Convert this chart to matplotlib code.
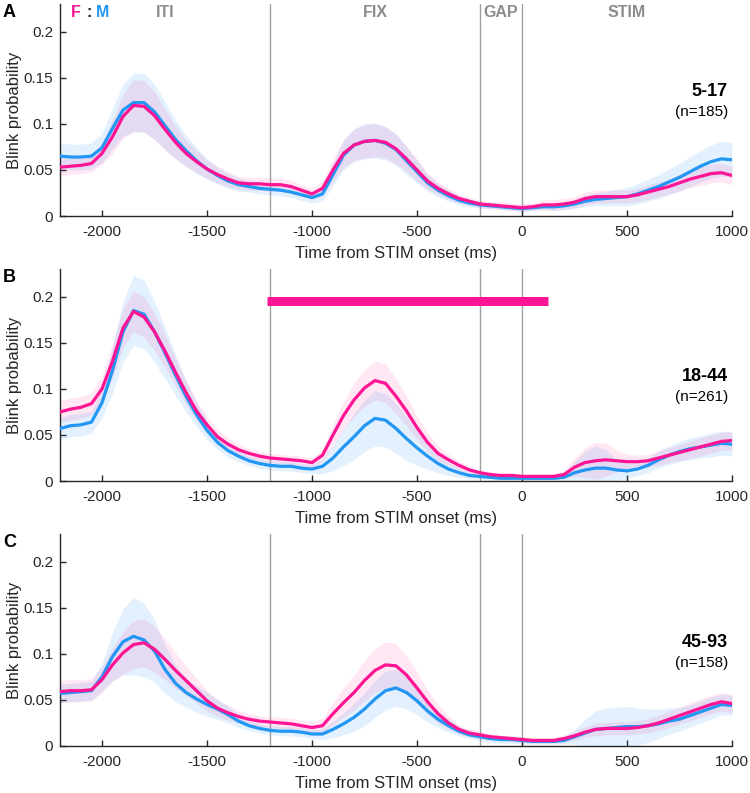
import numpy as np
import matplotlib
matplotlib.use("Agg")
import matplotlib.pyplot as plt

plt.rcParams['font.family'] = ['Liberation Sans', 'DejaVu Sans']
plt.rcParams['axes.unicode_minus'] = False

# time axis (ms from STIM onset), 50 ms steps
t = np.arange(-2200, 1001, 50)

# ---- panel A : 5-17 ----
fA = [0.053, 0.054, 0.055, 0.057, 0.068, 0.086, 0.108, 0.120, 0.119, 0.109,
      0.094, 0.080, 0.068, 0.059, 0.051, 0.045, 0.040, 0.036, 0.035, 0.035,
      0.034, 0.034, 0.032, 0.028, 0.024, 0.030, 0.050, 0.068, 0.077, 0.081,
      0.082, 0.080, 0.073, 0.062, 0.050, 0.038, 0.030, 0.024, 0.019, 0.016,
      0.013, 0.012, 0.011, 0.010, 0.009, 0.010, 0.012, 0.012, 0.013, 0.015,
      0.019, 0.021, 0.021, 0.021, 0.021, 0.023, 0.026, 0.029, 0.032, 0.036,
      0.040, 0.043, 0.046, 0.047, 0.044]
mA = [0.065, 0.064, 0.064, 0.065, 0.074, 0.095, 0.115, 0.123, 0.123, 0.113,
      0.098, 0.083, 0.071, 0.060, 0.051, 0.044, 0.038, 0.034, 0.032, 0.030,
      0.029, 0.028, 0.026, 0.023, 0.020, 0.024, 0.045, 0.066, 0.077, 0.081,
      0.082, 0.079, 0.072, 0.060, 0.048, 0.036, 0.028, 0.022, 0.017, 0.014,
      0.012, 0.011, 0.010, 0.009, 0.008, 0.009, 0.010, 0.010, 0.011, 0.013,
      0.016, 0.018, 0.019, 0.020, 0.021, 0.024, 0.028, 0.032, 0.037, 0.042,
      0.048, 0.054, 0.059, 0.062, 0.061]
fA_err = [0.009, 0.009, 0.009, 0.009, 0.012, 0.018, 0.024, 0.028, 0.028, 0.026,
          0.022, 0.018, 0.014, 0.012, 0.010, 0.009, 0.008, 0.007, 0.007, 0.007,
          0.007, 0.007, 0.007, 0.006, 0.006, 0.008, 0.012, 0.015, 0.017, 0.018,
          0.018, 0.017, 0.016, 0.014, 0.012, 0.009, 0.007, 0.006, 0.005, 0.004,
          0.004, 0.004, 0.004, 0.004, 0.004, 0.004, 0.005, 0.006, 0.006, 0.006,
          0.007, 0.007, 0.007, 0.007, 0.007, 0.007, 0.008, 0.008, 0.008, 0.009,
          0.009, 0.010, 0.010, 0.010, 0.010]
mA_err = [0.014, 0.014, 0.014, 0.014, 0.016, 0.022, 0.028, 0.032, 0.032, 0.030,
          0.026, 0.021, 0.017, 0.014, 0.011, 0.009, 0.008, 0.007, 0.006, 0.006,
          0.006, 0.006, 0.006, 0.006, 0.006, 0.008, 0.012, 0.016, 0.018, 0.019,
          0.019, 0.018, 0.017, 0.015, 0.012, 0.009, 0.007, 0.006, 0.005, 0.004,
          0.004, 0.003, 0.003, 0.003, 0.003, 0.003, 0.003, 0.004, 0.004, 0.005,
          0.006, 0.007, 0.008, 0.009, 0.010, 0.011, 0.012, 0.013, 0.014, 0.015,
          0.016, 0.017, 0.018, 0.019, 0.019]

# ---- panel B : 18-44 ----
fB = [0.075, 0.078, 0.080, 0.084, 0.100, 0.130, 0.166, 0.184, 0.178, 0.162,
      0.141, 0.118, 0.096, 0.076, 0.061, 0.048, 0.040, 0.034, 0.030, 0.027,
      0.025, 0.024, 0.023, 0.022, 0.020, 0.028, 0.050, 0.071, 0.088, 0.101,
      0.109, 0.106, 0.092, 0.076, 0.058, 0.042, 0.030, 0.023, 0.017, 0.012,
      0.009, 0.007, 0.006, 0.006, 0.005, 0.005, 0.005, 0.005, 0.007, 0.015,
      0.020, 0.022, 0.023, 0.022, 0.021, 0.021, 0.022, 0.025, 0.028, 0.031,
      0.034, 0.037, 0.040, 0.043, 0.044]
mB = [0.057, 0.060, 0.061, 0.064, 0.085, 0.120, 0.162, 0.185, 0.181, 0.162,
      0.139, 0.115, 0.092, 0.072, 0.055, 0.042, 0.033, 0.027, 0.022, 0.019,
      0.017, 0.016, 0.016, 0.014, 0.013, 0.016, 0.025, 0.037, 0.048, 0.060,
      0.068, 0.066, 0.057, 0.046, 0.036, 0.027, 0.019, 0.013, 0.009, 0.006,
      0.005, 0.004, 0.003, 0.003, 0.003, 0.003, 0.003, 0.003, 0.004, 0.009,
      0.012, 0.014, 0.014, 0.012, 0.011, 0.013, 0.017, 0.023, 0.028, 0.032,
      0.035, 0.037, 0.039, 0.041, 0.040]
fB_err = [0.012, 0.012, 0.012, 0.012, 0.014, 0.018, 0.021, 0.022, 0.022, 0.020,
          0.018, 0.015, 0.013, 0.011, 0.009, 0.008, 0.007, 0.006, 0.005, 0.005,
          0.005, 0.005, 0.005, 0.005, 0.005, 0.007, 0.011, 0.015, 0.018, 0.020,
          0.021, 0.021, 0.019, 0.016, 0.013, 0.010, 0.008, 0.006, 0.005, 0.004,
          0.003, 0.003, 0.003, 0.003, 0.003, 0.003, 0.003, 0.003, 0.004, 0.010,
          0.016, 0.020, 0.018, 0.012, 0.008, 0.007, 0.007, 0.008, 0.008, 0.009,
          0.009, 0.010, 0.010, 0.010, 0.010]
mB_err = [0.012, 0.012, 0.012, 0.012, 0.016, 0.025, 0.033, 0.038, 0.037, 0.033,
          0.028, 0.022, 0.017, 0.013, 0.010, 0.008, 0.007, 0.006, 0.005, 0.005,
          0.005, 0.005, 0.005, 0.005, 0.005, 0.008, 0.014, 0.020, 0.025, 0.028,
          0.030, 0.029, 0.027, 0.024, 0.019, 0.014, 0.010, 0.007, 0.005, 0.004,
          0.003, 0.003, 0.003, 0.003, 0.003, 0.003, 0.003, 0.003, 0.004, 0.012,
          0.020, 0.024, 0.020, 0.012, 0.008, 0.007, 0.008, 0.009, 0.010, 0.011,
          0.012, 0.012, 0.013, 0.013, 0.013]

# ---- panel C : 45-93 ----
fC = [0.059, 0.060, 0.060, 0.061, 0.072, 0.088, 0.101, 0.110, 0.112, 0.105,
      0.094, 0.082, 0.071, 0.060, 0.049, 0.041, 0.036, 0.032, 0.029, 0.027,
      0.026, 0.025, 0.024, 0.022, 0.020, 0.022, 0.035, 0.047, 0.058, 0.071,
      0.082, 0.088, 0.087, 0.077, 0.063, 0.048, 0.035, 0.025, 0.018, 0.014,
      0.012, 0.010, 0.009, 0.008, 0.007, 0.006, 0.006, 0.006, 0.008, 0.011,
      0.015, 0.018, 0.019, 0.019, 0.019, 0.020, 0.022, 0.025, 0.029, 0.033,
      0.037, 0.041, 0.045, 0.048, 0.046]
mC = [0.057, 0.058, 0.059, 0.060, 0.075, 0.097, 0.113, 0.119, 0.115, 0.103,
      0.083, 0.068, 0.058, 0.051, 0.045, 0.040, 0.034, 0.027, 0.022, 0.019,
      0.017, 0.016, 0.016, 0.015, 0.013, 0.013, 0.018, 0.024, 0.031, 0.040,
      0.051, 0.060, 0.063, 0.058, 0.049, 0.038, 0.029, 0.022, 0.016, 0.012,
      0.010, 0.008, 0.007, 0.007, 0.006, 0.005, 0.005, 0.005, 0.006, 0.010,
      0.014, 0.018, 0.019, 0.020, 0.021, 0.021, 0.022, 0.024, 0.027, 0.029,
      0.033, 0.037, 0.041, 0.045, 0.044]
fC_err = [0.012, 0.012, 0.012, 0.012, 0.014, 0.018, 0.023, 0.026, 0.026, 0.025,
          0.022, 0.019, 0.016, 0.013, 0.011, 0.009, 0.008, 0.007, 0.006, 0.006,
          0.006, 0.006, 0.006, 0.006, 0.006, 0.008, 0.012, 0.016, 0.019, 0.022,
          0.024, 0.025, 0.024, 0.021, 0.017, 0.013, 0.010, 0.007, 0.005, 0.004,
          0.004, 0.003, 0.003, 0.003, 0.003, 0.003, 0.003, 0.003, 0.004, 0.005,
          0.006, 0.007, 0.007, 0.007, 0.007, 0.007, 0.008, 0.008, 0.009, 0.009,
          0.010, 0.010, 0.010, 0.010, 0.010]
mC_err = [0.010, 0.010, 0.010, 0.010, 0.015, 0.026, 0.036, 0.042, 0.040, 0.034,
          0.026, 0.020, 0.016, 0.014, 0.013, 0.011, 0.009, 0.007, 0.005, 0.005,
          0.005, 0.005, 0.005, 0.005, 0.005, 0.006, 0.009, 0.012, 0.015, 0.018,
          0.020, 0.021, 0.020, 0.018, 0.015, 0.012, 0.009, 0.007, 0.005, 0.004,
          0.004, 0.004, 0.004, 0.004, 0.004, 0.003, 0.003, 0.003, 0.004, 0.008,
          0.015, 0.020, 0.022, 0.022, 0.022, 0.020, 0.018, 0.016, 0.014, 0.013,
          0.012, 0.012, 0.012, 0.011, 0.011]

panels = ['A', 'B', 'C']
age_groups = ['5-17', '18-44', '45-93']
n_labels = ['(n=185)', '(n=261)', '(n=158)']
label_y = [(0.135, 0.113), (0.113, 0.091), (0.112, 0.090)]
female = [fA, fB, fC]
male = [mA, mB, mC]
female_err = [fA_err, fB_err, fC_err]
male_err = [mA_err, mB_err, mC_err]

epoch_edges = [-1200, -200, 0]
epoch_names = ['ITI', 'FIX', 'GAP', 'STIM']
epoch_centers = [-1700, -700, -100, 500]

# significance bar in panel B
sig_start, sig_end = -1215, 125

col_f = '#FF1493'
col_m = '#2196F3'

fig = plt.figure(figsize=(7.5, 7.93), dpi=100)
bottoms = [0.7276, 0.3934, 0.0593]

for i in range(3):
    ax = fig.add_axes([0.08, bottoms[i], 0.896, 0.2673])
    f = np.array(female[i])
    m = np.array(male[i])
    fe = np.array(female_err[i])
    me = np.array(male_err[i])

    for xe in epoch_edges:
        ax.axvline(xe, color='#a0a0a0', lw=1.0, zorder=1)

    ax.fill_between(t, m - me, m + me, color=col_m, alpha=0.13, lw=0, zorder=2)
    ax.fill_between(t, f - fe, f + fe, color=col_f, alpha=0.10, lw=0, zorder=2)
    ax.plot(t, m, color=col_m, lw=2.3, zorder=3)
    ax.plot(t, f, color=col_f, lw=2.3, zorder=4)

    if i == 1:
        ax.hlines(0.195, sig_start, sig_end, color=col_f, lw=6.5, zorder=5)

    ax.set_xlim(-2200, 1000)
    ax.set_ylim(0, 0.23)
    ax.set_xticks([-2000, -1500, -1000, -500, 0, 500, 1000])
    ax.set_xticklabels(['-2000', '-1500', '-1000', '-500', '0', '500', '1000'])
    ax.set_yticks([0, 0.05, 0.1, 0.15, 0.2])
    ax.set_yticklabels(['0', '0.05', '0.1', '0.15', '0.2'])
    ax.tick_params(direction='in', length=4, width=1, labelsize=11,
                   colors='#262626')
    ax.tick_params(axis='x', pad=6.5)
    ax.tick_params(axis='y', pad=5)
    for s in ['top', 'right']:
        ax.spines[s].set_visible(False)
    for s in ['left', 'bottom']:
        ax.spines[s].set_color('#262626')
        ax.spines[s].set_linewidth(1.0)

    ax.set_xlabel('Time from STIM onset (ms)', fontsize=12, color='#262626')
    ax.xaxis.set_label_coords(0.5, -0.14)
    ax.set_ylabel('Blink probability', fontsize=12, color='#262626')
    ax.yaxis.set_label_coords(-0.056, 0.5)

    ax.text(-0.085, 1.0, panels[i], transform=ax.transAxes, fontsize=13,
            fontweight='bold', ha='left', va='top')
    ax.text(980, label_y[i][0], age_groups[i], fontsize=13, fontweight='bold',
            ha='right', va='center')
    ax.text(980, label_y[i][1], n_labels[i], fontsize=11,
            ha='right', va='center')

    if i == 0:
        for name, xc in zip(epoch_names, epoch_centers):
            ax.text(xc, 0.221, name, fontsize=11.5, fontweight='bold',
                    color='#8c8c8c', ha='center', va='center')
        ax.text(-2123, 0.221, 'F', color=col_f, fontsize=11.5,
                fontweight='bold', ha='center', va='center')
        ax.text(-2059, 0.221, ':', color='#262626', fontsize=11.5,
                fontweight='bold', ha='center', va='center')
        ax.text(-1997, 0.221, 'M', color=col_m, fontsize=11.5,
                fontweight='bold', ha='center', va='center')

fig.savefig('out.png', dpi=100)
